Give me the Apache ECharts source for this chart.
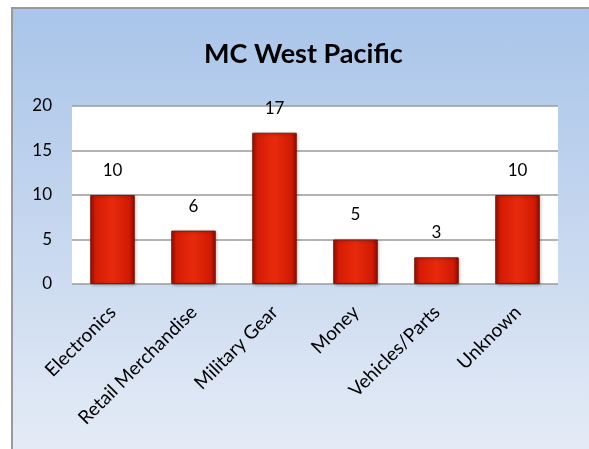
<!DOCTYPE html>
<html><head><meta charset="utf-8">
<script src="https://cdn.jsdelivr.net/npm/echarts@6/dist/echarts.min.js"></script>
<style>
html,body{margin:0;padding:0;background:#fff;}
#frame{position:absolute;left:11px;top:7px;width:578px;height:442px;border-left:2px solid #9a9a9a;border-top:2px solid #9a9a9a;box-sizing:border-box;background:linear-gradient(to bottom,#a9c5ea 0%,#c3d5ee 45%,#e4ebf6 100%);}
#chart{position:absolute;left:0;top:0;width:589px;height:449px;}
</style></head>
<body><div id="frame"></div><div id="chart"></div>
<script>
const categories = ["Electronics","Retail Merchandise","Military Gear","Money","Vehicles/Parts","Unknown"];
const values = [10, 6, 17, 5, 3, 10];
const titleText = "MC West Pacific";
const yTicks = {min:0, max:20, interval:5};

const chart = echarts.init(document.getElementById('chart'), null, {renderer:'canvas'});
const font = 'Lato, "Open Sans", sans-serif';
chart.setOption({
  backgroundColor:'transparent',
  animation:false,
  title:{text:titleText,left:204,top:41,padding:0,textStyle:{fontFamily:font,fontSize:27,fontWeight:'bold',color:'#000'}},
  grid:{left:72,right:31,top:106,bottom:165,show:true,backgroundColor:'#ffffff',borderWidth:0},
  xAxis:{type:'category',data:categories,
    axisLine:{show:false},axisTick:{show:false},
    axisLabel:{rotate:45,interval:0,fontFamily:font,fontSize:19,color:'#000',margin:12,verticalAlign:'top',padding:[0,9,0,0]}},
  yAxis:{type:'value',min:yTicks.min,max:yTicks.max,interval:yTicks.interval,
    axisLine:{show:false},axisTick:{show:false},
    splitLine:{lineStyle:{color:'#9a9a9a',width:1.5}},
    axisLabel:{fontFamily:font,fontSize:17,color:'#000',margin:20}},
  series:[{type:'bar',data:values,barWidth:'55%',
    label:{show:true,position:'top',distance:16,fontFamily:font,fontSize:17,color:'#000'},
    itemStyle:{
      color:new echarts.graphic.LinearGradient(0,0,1,0,[
        {offset:0,color:'#9c0e02'},{offset:0.12,color:'#d41c04'},
        {offset:0.5,color:'#e82a0c'},{offset:0.88,color:'#d01a04'},{offset:1,color:'#8c0a02'}]),
      borderColor:'#7a1a10',borderWidth:1,
      shadowColor:'rgba(0,0,0,0.3)',shadowBlur:3,shadowOffsetX:1,shadowOffsetY:1}
  }]
});
</script></body></html>
